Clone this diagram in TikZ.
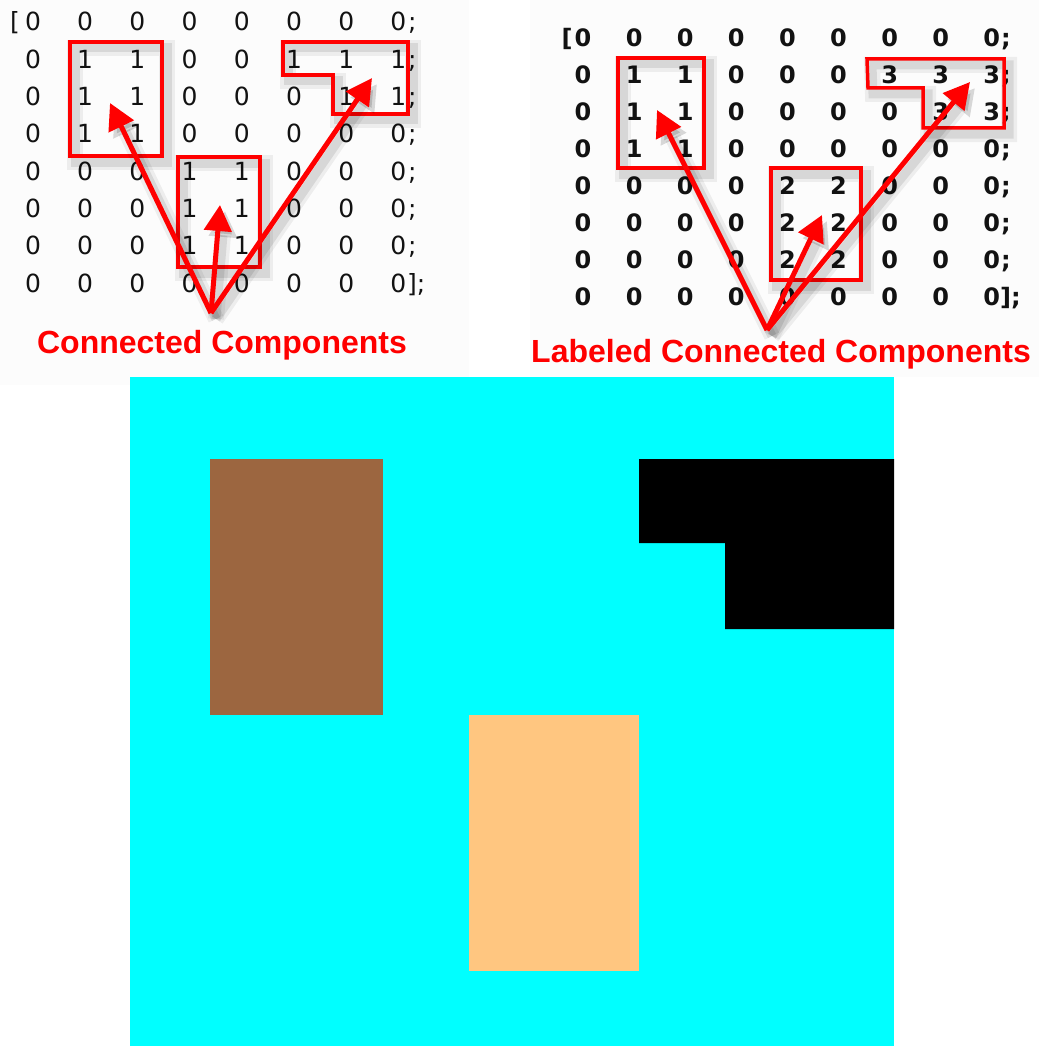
\documentclass[tikz,border=0pt]{standalone}
\usepackage{fontspec}
\setmainfont{DejaVu Sans}
\newfontfamily\lblfont{Liberation Sans}
\usetikzlibrary{arrows.meta}
\definecolor{cyanbg}{RGB}{0,255,255}
\definecolor{brownc}{RGB}{156,102,64}
\definecolor{peach}{RGB}{255,198,128}
\definecolor{redc}{RGB}{255,0,0}
\definecolor{digc}{RGB}{18,18,18}
\definecolor{panel}{RGB}{252,252,252}
\begin{document}
\begin{tikzpicture}[x=1pt,y=-1pt,
 ldig/.style={anchor=base, inner sep=0pt, text=digc, font=\fontsize{25}{25}\selectfont},
 rdig/.style={anchor=base, inner sep=0pt, text=digc, font=\fontsize{24}{24}\selectfont\bfseries},
 shadowed/.style={
   preaction={draw=black, opacity=0.06, line width=16pt, transform canvas={shift={(5pt,-6pt)}}},
   preaction={draw=black, opacity=0.09, line width=9pt, transform canvas={shift={(5pt,-6pt)}}}},
 compbox/.style={draw=redc, line width=3.5pt, line join=miter, shadowed},
 ptr/.style={draw=redc, line width=5pt, -{Triangle[length=26pt,width=27pt]}, shadowed},
 caption/.style={anchor=base, inner sep=0pt, text=redc, font=\lblfont\bfseries\fontsize{32}{32}\selectfont}
]
\useasboundingbox (0,0) rectangle (1039,1046);
\fill[white] (0,0) rectangle (1039,1046);
\fill[panel] (0,0) rectangle (469,385);
\fill[panel] (530,0) rectangle (1039,377);

% ---------- left matrix ----------
\foreach \row [count=\r] in {{0,0,0,0,0,0,0,0},{0,1,1,0,0,1,1,1},{0,1,1,0,0,0,1,1},{0,1,1,0,0,0,0,0},{0,0,0,1,1,0,0,0},{0,0,0,1,1,0,0,0},{0,0,0,1,1,0,0,0},{0,0,0,0,0,0,0,0}}{
  \foreach \v [count=\c] in \row {
    \node[ldig] (L-\r-\c) at ({33+52.2*(\c-1)},{31+37.3*(\r-1)}) {\v};
  }
}
\node[ldig] (Lopen) at (15,31) {[};
\foreach \r in {1,...,7}{
  \node[ldig, anchor=base west] (Lsemi-\r) at (408,{31+37.3*(\r-1)}) {;};
}
\node[ldig, anchor=base west] (Lclose) at (407,{31+37.3*7}) {];};

% ---------- right matrix ----------
\foreach \row [count=\r] in {{0,0,0,0,0,0,0,0,0},{0,1,1,0,0,0,3,3,3},{0,1,1,0,0,0,0,3,3},{0,1,1,0,0,0,0,0,0},{0,0,0,0,2,2,0,0,0},{0,0,0,0,2,2,0,0,0},{0,0,0,0,2,2,0,0,0},{0,0,0,0,0,0,0,0,0}}{
  \foreach \v [count=\c] in \row {
    \node[rdig] (R-\r-\c) at ({583+51.1*(\c-1)},{47+36.86*(\r-1)}) {\v};
  }
}
\node[rdig] (Ropen) at (567,47) {[};
\foreach \r in {1,...,7}{
  \node[rdig, anchor=base west] (Rsemi-\r) at (1001,{47+36.86*(\r-1)}) {;};
}
\node[rdig, anchor=base west] (Rclose) at (1000,{47+36.86*7}) {];};

% ---------- boxes ----------
\draw[compbox] (70,42) rectangle (162,156);
\draw[compbox] (178,157) rectangle (260,267);
\draw[compbox] (283,42) -- (408,42) -- (408,114) -- (333,114) -- (333,75) -- (283,75) -- cycle;

\draw[compbox] (618,58) rectangle (704,168);
\draw[compbox] (771,168) rectangle (861,280);
\draw[compbox] (867,59) -- (1004,59) -- (1004,128) -- (923,128) -- (923,88) -- (868,88) -- cycle;

% ---------- captions ----------
\node[caption] (capL) at (222,353) {Connected Components};
\node[caption] (capR) at (781,362) {Labeled Connected Components};

% ---------- arrows ----------
\coordinate (la) at (211,313);
\coordinate (lt1) at (110,103);
\coordinate (lt2) at (220,205);
\coordinate (lt3) at (372,78);
\draw[ptr] (la) -- (lt1);
\draw[ptr] (la) -- (lt2);
\draw[ptr] (la) -- (lt3);

\coordinate (ra) at (767,330);
\coordinate (rt1) at (657,110);
\coordinate (rt2) at (822,215);
\coordinate (rt3) at (970,82);
\draw[ptr] (ra) -- (rt1);
\draw[ptr] (ra) -- (rt2);
\draw[ptr] (ra) -- (rt3);

% ---------- labeled image ----------
\fill[cyanbg] (130,377) rectangle (894,1046);
\fill[brownc] (210,459) rectangle (383,715);
\fill[black] (639,459) -- (894,459) -- (894,629) -- (725,629) -- (725,543) -- (639,543) -- cycle;
\fill[peach] (469,715) rectangle (639,971);
\end{tikzpicture}
\end{document}
